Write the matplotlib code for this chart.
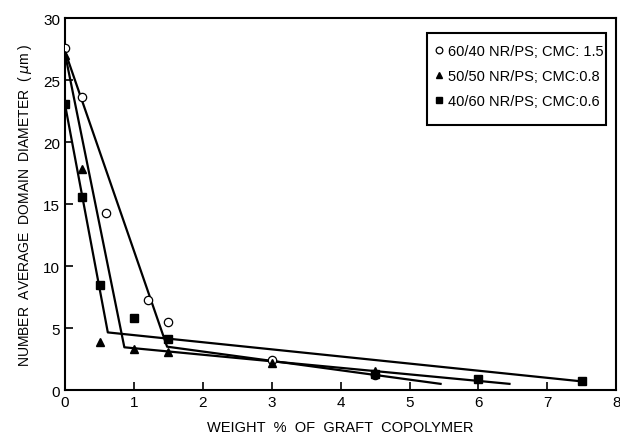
import matplotlib
matplotlib.use("Agg")
import matplotlib.pyplot as plt
from matplotlib.patches import Rectangle

plt.rcParams['font.family'] = ['Liberation Sans', 'DejaVu Sans']

# measured points
x_6040 = [0, 0.25, 0.6, 1.2, 1.5, 3.0, 4.5]
y_6040 = [27.6, 23.6, 14.3, 7.3, 5.5, 2.4, 1.2]
x_5050 = [0, 0.25, 0.5, 1.0, 1.5, 3.0, 4.5]
y_5050 = [27.0, 17.8, 3.9, 3.3, 3.1, 2.2, 1.5]
x_4060 = [0, 0.25, 0.5, 1.0, 1.5, 4.5, 6.0, 7.5]
y_4060 = [23.1, 15.6, 8.5, 5.85, 4.15, 1.3, 0.9, 0.72]

# hand-drawn fit lines (two segments each)
fit_6040_x = [0, 1.48, 5.45]
fit_6040_y = [27.3, 3.5, 0.5]
fit_5050_x = [0, 0.86, 6.45]
fit_5050_y = [27.1, 3.45, 0.5]
fit_4060_x = [0, 0.62, 7.5]
fit_4060_y = [23.0, 4.65, 0.7]

labels = ['60/40 NR/PS; CMC: 1.5', '50/50 NR/PS; CMC:0.8', '40/60 NR/PS; CMC:0.6']

fig = plt.figure(figsize=(6.2, 4.35), dpi=100)
ax = fig.add_axes([0.105, 0.101, 0.889, 0.855])

for fx, fy in [(fit_6040_x, fit_6040_y), (fit_5050_x, fit_5050_y), (fit_4060_x, fit_4060_y)]:
    ax.plot(fx, fy, color='black', lw=1.6, zorder=2)

ax.plot(x_6040, y_6040, 'o', mfc='white', mec='black', ms=6, mew=0.9, ls='none', label=labels[0], zorder=3)
ax.plot(x_5050, y_5050, '^', color='black', ms=5.5, ls='none', label=labels[1], zorder=3)
ax.plot(x_4060, y_4060, 's', color='black', ms=6, ls='none', label=labels[2], zorder=3)

ax.set_xlim(0, 8)
ax.set_ylim(0, 30)
ax.set_xticks(range(0, 9))
ax.set_yticks(range(0, 31, 5))
ax.tick_params(direction='in', length=6, width=1.2, labelsize=11)
for s in ax.spines.values():
    s.set_linewidth(1.5)

ax.set_xlabel('WEIGHT  %  OF  GRAFT  COPOLYMER', fontsize=10.5, labelpad=8)
ax.set_ylabel(r'NUMBER  AVERAGE  DOMAIN  DIAMETER  ( $\mu$m )', fontsize=10, labelpad=7)

ax.add_patch(Rectangle((0.656, 0.713), 0.326, 0.247, transform=ax.transAxes,
                       fill=False, ec='black', lw=1.5, zorder=4))
ax.legend(loc='upper left', bbox_to_anchor=(0.643, 0.965), frameon=False,
          fontsize=10.5, handletextpad=0.15, handlelength=0.9, labelspacing=0.75,
          markerscale=0.8)

fig.savefig('out.png', dpi=100)
